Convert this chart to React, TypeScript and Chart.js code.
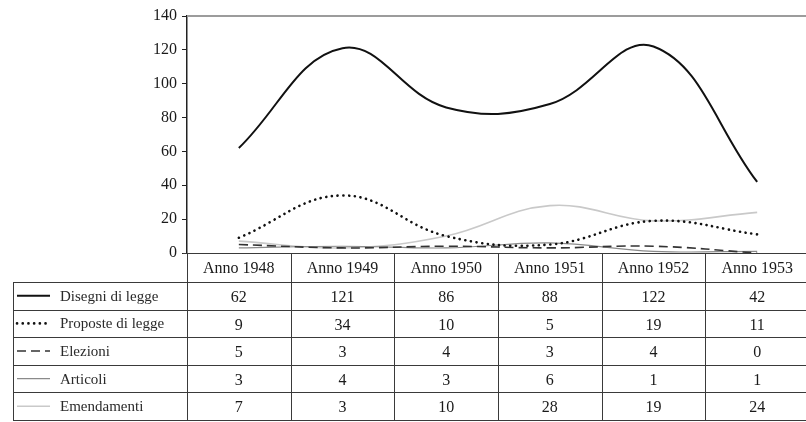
import React, { useEffect, useRef } from "react";
import { Chart, registerables } from "chart.js";

Chart.register(...registerables);

const categories = ["Anno 1948", "Anno 1949", "Anno 1950", "Anno 1951", "Anno 1952", "Anno 1953"];
const seriesNames = ["Disegni di legge", "Proposte di legge", "Elezioni", "Articoli", "Emendamenti"];
const disegni = [62, 121, 86, 88, 122, 42];
const proposte = [9, 34, 10, 5, 19, 11];
const elezioni = [5, 3, 4, 3, 4, 0];
const articoli = [3, 4, 3, 6, 1, 1];
const emendamenti = [7, 3, 10, 28, 19, 24];
const yMin = 0;
const yMax = 140;
const yStep = 20;

const seriesValues = [disegni, proposte, elezioni, articoli, emendamenti];

const styles = [
  { color: "#111111", width: 2, dash: [] as number[], cap: "butt" },
  { color: "#111111", width: 2.6, dash: [0.1, 5.6], cap: "round" },
  { color: "#333333", width: 1.6, dash: [9, 5], cap: "butt" },
  { color: "#8a8a8a", width: 1.2, dash: [] as number[], cap: "butt" },
  { color: "#c9c9c9", width: 1.6, dash: [] as number[], cap: "butt" },
];

const FONT = "'Liberation Serif', 'Times New Roman', serif";

const tablePlugin = {
  id: "dataTable",
  afterDraw(chart: any) {
    const { ctx, chartArea } = chart;
    const W = chart.width;
    const H = chart.height;
    const left = chartArea.left;
    const right = chartArea.right;
    const top = chartArea.bottom;
    const step = (right - left) / categories.length;
    const headerH = 29;
    const tableLeft = 13;
    const rowsTop = top + headerH;
    const rowH = (H - 2 - rowsTop) / seriesNames.length;

    ctx.save();
    // top frame line
    ctx.strokeStyle = "#9c9c9c";
    ctx.lineWidth = 2;
    ctx.beginPath();
    ctx.moveTo(left, chartArea.top);
    ctx.lineTo(W, chartArea.top);
    ctx.stroke();

    ctx.strokeStyle = "#3a3a3a";
    ctx.lineWidth = 1;
    // header top line (axis)
    ctx.beginPath();
    ctx.moveTo(left - 4, top + 0.5);
    ctx.lineTo(W, top + 0.5);
    ctx.stroke();
    // row lines
    for (let r = 0; r <= seriesNames.length; r++) {
      const y = Math.round(rowsTop + r * rowH) + 0.5;
      ctx.beginPath();
      ctx.moveTo(tableLeft, y);
      ctx.lineTo(W, y);
      ctx.stroke();
    }
    // left border
    ctx.beginPath();
    ctx.moveTo(tableLeft + 0.5, rowsTop);
    ctx.lineTo(tableLeft + 0.5, rowsTop + seriesNames.length * rowH);
    ctx.stroke();
    // column lines
    for (let i = 0; i <= categories.length; i++) {
      const x = Math.round(left + i * step) + 0.5;
      ctx.beginPath();
      ctx.moveTo(x, top);
      ctx.lineTo(x, rowsTop + seriesNames.length * rowH);
      ctx.stroke();
    }

    // header labels
    ctx.fillStyle = "#1a1a1a";
    ctx.font = `16px ${FONT}`;
    ctx.textAlign = "center";
    ctx.textBaseline = "middle";
    const xs = chart.scales.x;
    categories.forEach((c, i) => {
      ctx.fillText(c, xs.getPixelForValue(i), top + headerH / 2 + 1);
    });

    // rows
    seriesNames.forEach((name, r) => {
      const cy = rowsTop + r * rowH + rowH / 2 + 1;
      const st = styles[r];
      ctx.save();
      ctx.strokeStyle = st.color;
      ctx.lineWidth = st.width;
      ctx.setLineDash(st.dash);
      ctx.lineCap = st.cap;
      ctx.beginPath();
      ctx.moveTo(17, cy - 1);
      ctx.lineTo(50, cy - 1);
      ctx.stroke();
      ctx.restore();

      ctx.fillStyle = "#2a2a2a";
      ctx.font = `15px ${FONT}`;
      ctx.textAlign = "left";
      ctx.fillText(name, 60, cy);

      ctx.font = `16px ${FONT}`;
      ctx.textAlign = "center";
      ctx.fillStyle = "#1a1a1a";
      seriesValues[r].forEach((v, i) => {
        ctx.fillText(String(v), xs.getPixelForValue(i), cy + 1);
      });
    });
    ctx.restore();
  },
};

export default function App() {
  const canvasRef = useRef<HTMLCanvasElement | null>(null);

  useEffect(() => {
    if (!canvasRef.current) return;
    const chart = new Chart(canvasRef.current, {
      type: "line",
      data: {
        labels: categories,
        datasets: seriesNames.map((name, i) => ({
          label: name,
          data: seriesValues[i],
          borderColor: styles[i].color,
          borderWidth: styles[i].width,
          borderDash: styles[i].dash,
          borderCapStyle: styles[i].cap as any,
          pointRadius: 0,
          tension: 0.4,
          fill: false,
        })),
      },
      options: {
        animation: false,
        responsive: true,
        maintainAspectRatio: false,
        layout: { padding: { top: 16, bottom: 169, left: 0, right: 0 } },
        plugins: { legend: { display: false }, tooltip: { enabled: false } },
        scales: {
          x: {
            display: false,
            offset: true,
          },
          y: {
            min: yMin,
            max: yMax,
            afterFit(scale: any) {
              scale.width = 187;
            },
            ticks: {
              stepSize: yStep,
              color: "#1a1a1a",
              padding: 5,
              font: { family: FONT, size: 16 },
            },
            grid: {
              drawOnChartArea: false,
              drawTicks: true,
              tickLength: 5,
              color: "#222222",
            },
            border: { display: true, color: "#222222", width: 1.5 },
          },
        },
      },
      plugins: [tablePlugin],
    });
    return () => chart.destroy();
  }, []);

  return (
    <div style={{ position: "fixed", left: 0, top: 0, width: 806, height: 422, overflow: "hidden", background: "#fff" }}>
      <div style={{ position: "relative", width: 809, height: 422 }}>
        <canvas ref={canvasRef} />
      </div>
    </div>
  );
}
